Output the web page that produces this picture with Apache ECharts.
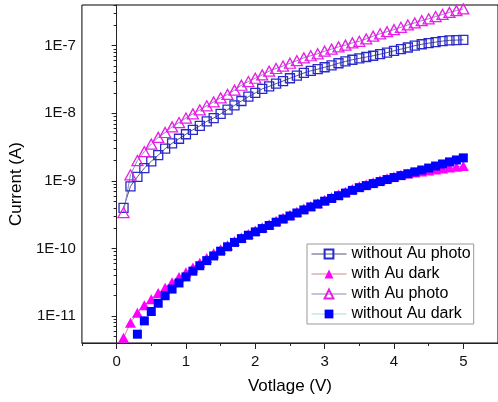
<!DOCTYPE html>
<html>
<head>
<meta charset="utf-8">
<script src="https://cdn.jsdelivr.net/npm/echarts@6/dist/echarts.min.js"></script>
<style>
html,body{margin:0;padding:0;background:#fff;}
#chart{width:498px;height:402px;}
</style>
</head>
<body>
<div id="chart"></div>
<script>
// ---- data ----
const voltage = [0.1,0.2,0.3,0.4,0.5,0.6,0.7,0.8,0.9,1.0,
                 1.1,1.2,1.3,1.4,1.5,1.6,1.7,1.8,1.9,2.0,
                 2.1,2.2,2.3,2.4,2.5,2.6,2.7,2.8,2.9,3.0,
                 3.1,3.2,3.3,3.4,3.5,3.6,3.7,3.8,3.9,4.0,
                 4.1,4.2,4.3,4.4,4.5,4.6,4.7,4.8,4.9,5.0];

const withoutAuPhoto = [4.0e-10,8.3e-10,1.15e-9,1.55e-9,1.95e-9,2.4e-9,3.0e-9,3.6e-9,4.2e-9,4.9e-9,
                        5.7e-9,6.5e-9,7.6e-9,8.5e-9,9.8e-9,1.13e-8,1.31e-8,1.52e-8,1.76e-8,2.0e-8,
                        2.3e-8,2.5e-8,2.75e-8,3.0e-8,3.3e-8,3.6e-8,3.95e-8,4.25e-8,4.5e-8,4.8e-8,
                        5.1e-8,5.5e-8,5.85e-8,6.2e-8,6.5e-8,6.8e-8,7.1e-8,7.5e-8,7.9e-8,8.4e-8,
                        8.9e-8,9.4e-8,1.0e-7,1.05e-7,1.09e-7,1.13e-7,1.17e-7,1.2e-7,1.21e-7,1.22e-7];

const withAuDark = [4.79e-12,7.94e-12,1.12e-11,1.45e-11,1.78e-11,2.19e-11,2.63e-11,3.16e-11,3.80e-11,4.47e-11,
                    5.25e-11,6.17e-11,7.24e-11,8.51e-11,9.77e-11,1.12e-10,1.29e-10,1.46e-10,1.64e-10,1.84e-10,
                    2.07e-10,2.29e-10,2.57e-10,2.85e-10,3.16e-10,3.51e-10,3.89e-10,4.27e-10,4.68e-10,5.25e-10,
                    5.75e-10,6.31e-10,6.92e-10,7.59e-10,8.32e-10,8.91e-10,9.55e-10,1.023e-9,1.09e-9,1.16e-9,
                    1.23e-9,1.29e-9,1.33e-9,1.38e-9,1.43e-9,1.48e-9,1.53e-9,1.585e-9,1.62e-9,1.66e-9];

const withAuPhoto = [3.4e-10,1.23e-9,2.0e-9,2.7e-9,3.5e-9,4.4e-9,5.2e-9,6.3e-9,7.3e-9,8.5e-9,
                     9.8e-9,1.12e-8,1.29e-8,1.47e-8,1.69e-8,1.9e-8,2.2e-8,2.6e-8,2.95e-8,3.3e-8,
                     3.7e-8,4.2e-8,4.6e-8,5.0e-8,5.5e-8,6.0e-8,6.6e-8,7.1e-8,7.6e-8,8.3e-8,
                     8.9e-8,9.6e-8,1.02e-7,1.1e-7,1.16e-7,1.26e-7,1.38e-7,1.5e-7,1.61e-7,1.73e-7,
                     1.87e-7,2.03e-7,2.17e-7,2.35e-7,2.5e-7,2.7e-7,2.9e-7,3.1e-7,3.3e-7,3.5e-7];

const withoutAuDark = [null,null,5.4e-12,8.5e-12,1.17e-11,1.55e-11,2.0e-11,2.51e-11,3.09e-11,3.80e-11,
                       4.62e-11,5.56e-11,6.61e-11,7.76e-11,9.12e-11,1.06e-10,1.23e-10,1.40e-10,1.57e-10,1.76e-10,
                       1.97e-10,2.19e-10,2.45e-10,2.72e-10,3.02e-10,3.35e-10,3.72e-10,4.12e-10,4.55e-10,5.01e-10,
                       5.50e-10,6.03e-10,6.61e-10,7.24e-10,7.94e-10,8.51e-10,9.12e-10,9.77e-10,1.047e-9,1.12e-9,
                       1.197e-9,1.276e-9,1.36e-9,1.45e-9,1.55e-9,1.66e-9,1.78e-9,1.91e-9,2.04e-9,2.19e-9];

const seriesNames = ['without Au photo','with Au dark','with Au photo','without Au dark'];

const xTickValues = [0,1,2,3,4,5];
const xMinorTickValues = [-0.5,0.5,1.5,2.5,3.5,4.5,5.5];
const yTickValues = [1e-11,1e-10,1e-9,1e-8,1e-7];
const yTickLabels = ['1E-11','1E-10','1E-9','1E-8','1E-7'];

// minor log ticks 2..9 per decade
const yMinorTickValues = [];
for (let d = -12; d <= -7; d++) {
  for (let k = 2; k <= 9; k++) {
    const v = k * Math.pow(10, d);
    if (v >= 4e-12 && v <= 4e-7) yMinorTickValues.push(v);
  }
}

function pairs(ys) {
  const out = [];
  for (let i = 0; i < voltage.length; i++) {
    if (ys[i] != null) out.push([voltage[i], ys[i]]);
  }
  return out;
}

const FONT = '"Liberation Sans", Arial, sans-serif';

const chart = echarts.init(document.getElementById('chart'), null, {renderer: 'canvas'});

const option = {
  animation: false,
  backgroundColor: '#ffffff',
  textStyle: {fontFamily: FONT},
  grid: {
    left: 81, right: -3, top: 5, bottom: 59,
    show: true, borderColor: '#000', borderWidth: 1, backgroundColor: 'transparent'
  },
  legend: {
    orient: 'vertical',
    left: 307, top: 244,
    padding: [2, 3, 2, 4],
    itemWidth: 35, itemHeight: 11, itemGap: 4,
    backgroundColor: '#fff',
    borderColor: '#999', borderWidth: 1,
    selectedMode: false,
    lineStyle: {width: 1},
    textStyle: {fontFamily: FONT, fontSize: 16, color: '#000'},
    data: seriesNames
  },
  xAxis: [{
    type: 'value', position: 'bottom', min: -0.5, max: 5.5,
    name: 'Votlage (V)', nameLocation: 'middle', nameGap: 35,
    nameTextStyle: {fontFamily: FONT, fontSize: 17, color: '#000'},
    axisLine: {show: true, lineStyle: {color: '#222', width: 1}},
    axisTick: {show: true, inside: false, length: 6, customValues: xTickValues, lineStyle: {color: '#222'}},
    axisLabel: {show: true, customValues: xTickValues, margin: 11, fontFamily: FONT, fontSize: 15, color: '#111'},
    splitLine: {show: false}
  }, {
    type: 'value', position: 'bottom', min: -0.5, max: 5.5,
    axisLine: {show: false},
    axisTick: {show: true, inside: false, length: 3, customValues: xMinorTickValues, lineStyle: {color: '#222'}},
    axisLabel: {show: false},
    splitLine: {show: false}
  }],
  yAxis: [{
    type: 'log', logBase: 10, position: 'left', min: 4e-12, max: 4e-7,
    name: 'Current (A)', nameLocation: 'middle', nameGap: 55,
    nameTextStyle: {fontFamily: FONT, fontSize: 17, color: '#000', padding: [0, 20, 0, 0]},
    axisLine: {show: true, lineStyle: {color: '#222', width: 1}},
    axisTick: {show: true, inside: false, length: 5, customValues: yTickValues, lineStyle: {color: '#222'}},
    axisLabel: {
      show: true, customValues: yTickValues, margin: 6, fontFamily: FONT, fontSize: 15, color: '#111',
      formatter: function (v) {
        let best = 0, bd = Infinity;
        for (let i = 0; i < yTickValues.length; i++) {
          const d = Math.abs(Math.log10(v) - Math.log10(yTickValues[i]));
          if (d < bd) { bd = d; best = i; }
        }
        return yTickLabels[best];
      }
    },
    splitLine: {show: false}
  }, {
    type: 'log', logBase: 10, position: 'left', min: 4e-12, max: 4e-7,
    axisLine: {show: false},
    axisTick: {show: true, inside: false, length: 3, customValues: yMinorTickValues, lineStyle: {color: '#222'}},
    axisLabel: {show: false},
    splitLine: {show: false}
  }],
  series: [{
    name: seriesNames[0], type: 'line', xAxisIndex: 0, yAxisIndex: 0,
    data: pairs(withoutAuPhoto),
    symbol: 'rect', symbolSize: 9,
    lineStyle: {color: '#55557a', width: 1},
    itemStyle: {color: 'rgba(255,255,255,0)', borderColor: '#2a2ac8', borderWidth: 1.3},
    emphasis: {disabled: true}
  }, {
    name: seriesNames[1], type: 'line', xAxisIndex: 0, yAxisIndex: 0,
    data: pairs(withAuDark),
    symbol: 'triangle', symbolSize: [11, 10],
    lineStyle: {color: '#d08888', width: 1},
    itemStyle: {color: '#ff00ff', borderWidth: 0},
    emphasis: {disabled: true}
  }, {
    name: seriesNames[2], type: 'line', xAxisIndex: 0, yAxisIndex: 0,
    data: pairs(withAuPhoto),
    symbol: 'triangle', symbolSize: [11, 10],
    lineStyle: {color: '#8888c0', width: 1},
    itemStyle: {color: 'rgba(255,255,255,0)', borderColor: '#e61ee6', borderWidth: 1.3},
    emphasis: {disabled: true}
  }, {
    name: seriesNames[3], type: 'line', xAxisIndex: 0, yAxisIndex: 0,
    data: pairs(withoutAuDark),
    symbol: 'rect', symbolSize: 9,
    lineStyle: {color: '#a6dada', width: 1},
    itemStyle: {color: '#0000ff', borderWidth: 0},
    emphasis: {disabled: true}
  }]
};

chart.setOption(option);
</script>
</body>
</html>
